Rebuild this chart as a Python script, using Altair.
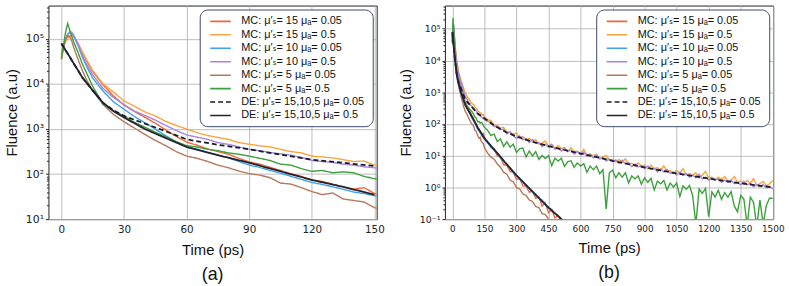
import altair as alt
import pandas as pd

# ---------------- time grids ----------------
T_EARLY = [0, 1, 2, 3, 4, 5, 6, 8, 10, 12, 15, 20, 25, 30, 35, 40, 45, 50, 55, 60,
           65, 70, 75, 80, 85, 90, 95, 100, 105, 110, 115, 120, 125, 130, 135, 140, 145, 150]
T_LATE = list(range(165, 1501, 15))
T_MC = T_EARLY + T_LATE

LABELS = [
    "MC: μ′ₛ= 15 μₐ= 0.05",
    "MC: μ′ₛ= 15 μₐ= 0.5",
    "MC: μ′ₛ= 10 μₐ= 0.05",
    "MC: μ′ₛ= 10 μₐ= 0.5",
    "MC: μ′ₛ= 5 μₐ= 0.05",
    "MC: μ′ₛ= 5 μₐ= 0.5",
    "DE:  μ′ₛ= 15,10,5 μₐ= 0.05",
    "DE:  μ′ₛ= 15,10,5 μₐ= 0.5",
]
COLORS = ["#ef6637", "#f8a43c", "#3fa2e6", "#a386e0", "#b5785a", "#3e9f3e", "#1c1c28", "#222230"]
DASHES = [[1, 0], [1, 0], [1, 0], [1, 0], [1, 0], [1, 0], [5, 3], [1, 0]]

# ---------------- Monte Carlo series (fluence, a.u.) ----------------
MC_15_005 = [5.0e4, 7.1e4, 8.9e4, 1.05e5, 1.15e5, 1.2e5, 1.12e5, 7.9e4, 5.0e4, 3.3e4, 1.9e4, 9.5e3,
             5.4e3, 3.4e3, 2.45e3, 1.82e3, 1.35e3, 955, 690, 513, 437, 363, 316, 275, 224, 186, 166,
             141, 120, 102, 89, 74, 69, 60, 52, 46, 50, 37,
             28, 17.8, 16.6, 10, 8.9, 5.2, 5.0, 3.2, 3.0, 1.78, 1.9, 1.12, 1.1, 0.71, 0.76, 0.45,
             0.5, 0.26, 0.32, 0.16, 0.2, 0.11, 0.13, 0.079, 0.089, 0.05]
MC_15_05 = [5.0e4, 7.1e4, 8.9e4, 1.05e5, 1.12e5, 1.17e5, 1.12e5, 7.9e4, 5.2e4, 3.5e4, 2.0e4, 1.0e4,
            6.6e3, 4.2e3, 3.2e3, 2.4e3, 1.95e3, 1.48e3, 1.2e3, 1.0e3, 830, 720, 650, 590, 500, 460,
            425, 400, 355, 316, 295, 250, 240, 229, 209, 190, 195, 158,
            135, 129, 91, 91, 74, 78, 55, 55, 47, 52,
            37, 40, 31, 35, 29, 32, 23, 25, 29, 20,
            22, 17, 21, 17, 18, 13.5, 18, 13.5, 13.8, 11.2,
            15.8, 10.5, 11.5, 10, 11.2, 7.9, 9.1, 10.2, 7.2, 7.6,
            6.3, 7.6, 6.3, 7.9, 5.5, 5.8, 4.7, 5.9, 4.8, 4.9,
            3.8, 5.1, 3.9, 4.2, 3.4, 4.8, 3.3, 3.4, 2.75, 3.5,
            2.8, 3.9, 2.45, 2.75, 2.4, 2.9, 2.0, 2.45, 3.2, 2.0,
            2.1, 1.7, 2.1, 1.8, 2.2, 1.55, 1.7, 2.2, 1.45, 1.6,
            1.26, 1.66, 1.35, 1.9, 1.15, 1.32, 1.55, 1.12, 1.29, 1.66]
MC_10_005 = [4.0e4, 6.3e4, 9.5e4, 1.26e5, 1.38e5, 1.32e5, 1.12e5, 7.1e4, 4.0e4, 2.5e4, 1.35e4, 6.9e3,
             4.0e3, 2.75e3, 1.9e3, 1.38e3, 1.0e3, 710, 525, 400, 355, 302, 263, 229, 191, 158, 141,
             120, 105, 89, 76, 65, 59, 52, 46, 40, 37, 33,
             25, 19, 14.8, 11.5, 8.7, 6.8, 5.0, 4.0, 2.9, 2.4, 1.8, 1.5, 1.1, 0.95, 0.7, 0.62,
             0.45, 0.4, 0.3, 0.23, 0.2, 0.15, 0.13, 0.1, 0.08, 0.056]
MC_10_05 = [4.5e4, 7.1e4, 1.0e5, 1.26e5, 1.45e5, 1.41e5, 1.2e5, 7.6e4, 4.3e4, 2.8e4, 1.6e4, 7.9e3,
            5.0e3, 3.5e3, 2.5e3, 2.0e3, 1.58e3, 1.2e3, 930, 740, 660, 590, 500, 457, 400, 355, 331,
            302, 282, 263, 234, 200, 190, 182, 166, 158, 145, 138,
            120, 115, 83, 83, 66, 68, 49, 56, 43, 35,
            42, 32, 34, 26, 32, 25, 26, 19.5, 23, 18.6,
            23, 16.2, 17.8, 14.1, 17, 13.8, 14.8, 11.2, 13.5, 11,
            12.9, 9.5, 10.5, 8.5, 10.5, 8.1, 8.9, 6.8, 7.8, 6.5,
            7.4, 5.8, 7.2, 5.5, 5.9, 4.5, 5.5, 4.4, 4.9, 3.9,
            4.7, 3.7, 4.0, 3.1, 3.8, 3.1, 3.7, 2.75, 3.0, 2.45,
            3.0, 2.45, 2.7, 2.1, 2.45, 2.0, 2.6, 1.86, 2.1, 1.7,
            2.0, 1.7, 1.86, 1.45, 1.7, 1.45, 1.7, 1.32, 1.45, 1.2,
            1.55, 1.2, 1.35, 1.05, 1.23, 1.05, 1.23, 0.98, 1.07, 0.89]
MC_5_005 = [3.5e4, 6.3e4, 1.0e5, 1.2e5, 1.12e5, 8.9e4, 6.3e4, 3.5e4, 2.0e4, 1.26e4, 7.1e3, 3.5e3,
            2.1e3, 1.45e3, 1.05e3, 760, 560, 427, 316, 251, 224, 191, 158, 138, 117, 102, 95,
            83, 63, 60, 50, 41, 35, 38, 28, 26, 24, 18,
            12, 9.0, 7.8, 5.5, 4.3, 3.0, 2.6, 1.7, 1.5, 1.0, 0.9, 0.62, 0.56, 0.4, 0.36, 0.25,
            0.23, 0.15, 0.14, 0.1, 0.09, 0.06, 0.05]
MC_5_05 = [3.6e4, 7.1e4, 1.41e5, 2.2e5, 1.58e5, 1.12e5, 8.3e4, 5.0e4, 2.8e4, 1.78e4, 8.9e3, 3.5e3,
           2.5e3, 1.95e3, 1.41e3, 1.1e3, 850, 676, 525, 427, 398, 355, 331, 295, 275, 251, 224,
           200, 166, 158, 132, 115, 120, 107, 112, 107, 89, 79,
           63, 43, 48, 28, 34, 19.5, 27.5, 18.6, 23, 12.6,
           16.6, 17.4, 9.1, 14.1, 9.8, 13.5, 7.6, 10.2, 8.1, 10,
           4.8, 8.3, 6.8, 8.3, 4.6, 6.5, 6.9, 4.3, 5.9, 4.7,
           5.6, 3.0, 4.7, 3.6, 4.7, 2.7, 3.6, 0.21, 2.9, 3.5,
           2.0, 2.9, 2.1, 2.9, 1.38, 2.3, 1.86, 2.3, 1.26, 2.0,
           1.45, 1.95, 0.83, 1.58, 1.29, 1.66, 0.83, 1.38, 1.02, 1.38,
           0.52, 1.12, 0.87, 1.15, 0.55, 0.069, 0.89, 0.65, 0.93, 0.12,
           0.72, 0.5, 0.81, 0.42, 0.69, 0.49, 0.74, 0.26, 0.17, 0.56,
           0.42, 0.063, 0.49, 0.34, 0.058, 0.4, 0.069, 0.27, 0.46, 0.45]

# ---------------- diffusion-equation series ----------------
DE_T_005 = [0, 2, 4, 6, 8, 10, 15, 20, 25, 30, 40, 50, 60, 75, 90, 105, 120, 135, 150, 200, 250,
            300, 375, 450, 525, 600, 750, 900, 1050, 1200, 1350, 1500]
DE_V_005 = [7.9e4, 5.6e4, 4.0e4, 2.8e4, 2.0e4, 1.4e4, 7.2e3, 3.8e3, 2.6e3, 1.95e3, 1.32e3, 890, 590,
            447, 355, 269, 209, 178, 151, 85, 56, 40, 27.5, 20, 15.1, 11.7, 6.9, 4.3, 2.75, 1.9,
            1.35, 1.0]
DE_T_05 = [0, 2, 4, 6, 8, 10, 15, 20, 25, 30, 40, 50, 60, 75, 90, 105, 120, 135, 150, 200, 250,
           300, 350, 400, 450, 500, 540]
DE_V_05 = [7.9e4, 5.6e4, 4.0e4, 2.8e4, 2.0e4, 1.4e4, 7.2e3, 3.8e3, 2.5e3, 1.8e3, 1.0e3, 630, 400,
           263, 178, 115, 74, 52, 35, 14.5, 5.8, 2.4, 1.1, 0.5, 0.23, 0.117, 0.063]

MC_SERIES = [MC_15_005, MC_15_05, MC_10_005, MC_10_05, MC_5_005, MC_5_05]
rows = []
for lab, vals in zip(LABELS[:6], MC_SERIES):
    for t, v in zip(T_MC, vals):
        rows.append({"t": t, "v": v, "series": lab})
mc_df = pd.DataFrame(rows)

rows = []
for lab, ts, vs in [(LABELS[6], DE_T_005, DE_V_005), (LABELS[7], DE_T_05, DE_V_05)]:
    for t, v in zip(ts, vs):
        rows.append({"t": t, "v": v, "series": lab})
de_df = pd.DataFrame(rows)

SUP = "['⁻¹','⁰','¹','²','³','⁴','⁵']"
LABEL_EXPR = "'10' + " + SUP + "[round(log(datum.value)/LN10)+1]"


def minor_values(lo, hi):
    out = []
    for e in range(lo, hi + 1):
        for m in range(2, 10):
            out.append(m * 10.0 ** e)
    return out


def panel(tmax, xdom, xticks, ydom, yticks, minor, lab_size, sub):
    mc = mc_df[mc_df.t <= tmax]
    de = de_df[de_df.t <= tmax]
    color = alt.Color("series:N", title=None,
                      scale=alt.Scale(domain=LABELS, range=COLORS),
                      legend=alt.Legend(orient="top-right"))
    dash = alt.StrokeDash("series:N", title=None,
                          scale=alt.Scale(domain=LABELS, range=DASHES),
                          legend=alt.Legend(orient="top-right"))
    x = alt.X("t:Q", scale=alt.Scale(domain=xdom, nice=False, zero=False),
              axis=alt.Axis(values=xticks, title="Time (ps)", labelFontSize=lab_size,
                            format="d", labelFlush=False, ticks=False, labelPadding=6,
                            titlePadding=7))
    ymain = alt.Y("v:Q", scale=alt.Scale(type="log", domain=ydom, nice=False),
                  axis=alt.Axis(values=yticks, labelExpr=LABEL_EXPR, title="Fluence (a.u)",
                                labelFontSize=lab_size + 0.5, orient="left", labelFlush=False,
                                tickSize=3))
    yminor = alt.Y("v:Q", scale=alt.Scale(type="log", domain=ydom, nice=False),
                   axis=alt.Axis(values=minor, labels=False, grid=False, domain=False,
                                 tickSize=2, title=None, orient="left"))
    l1 = alt.Chart(mc).mark_line(clip=True, strokeWidth=1.4).encode(
        x=x, y=ymain, color=color, strokeDash=dash, detail="series:N")
    l2 = alt.Chart(de).mark_line(clip=True, strokeWidth=1.8).encode(
        x=x, y=yminor, color=color, strokeDash=dash, detail="series:N")
    return alt.layer(l1, l2).resolve_axis(y="independent").properties(
        width=332, height=216,
        title=alt.TitleParams(sub, orient="bottom", anchor="middle", fontSize=18,
                              font="Liberation Sans", fontWeight="normal", offset=9,
                              color="#111111"))


left = panel(165, [-6.2, 151.1], [0, 30, 60, 90, 120, 150], [10, 5.5e5],
             [10, 100, 1000, 10000, 100000], minor_values(1, 5), 10.5, "(a)")
right = panel(1500, [-35, 1502], list(range(0, 1501, 150)), [0.1, 5.4e5],
              [0.1, 1, 10, 100, 1000, 10000, 100000], minor_values(-1, 5), 9, "(b)")

chart = alt.hconcat(left, right, spacing=12).resolve_scale(
    color="independent", strokeDash="independent").resolve_legend(
    color="independent", strokeDash="independent").properties(
    padding={"left": 4, "top": 3, "right": 4, "bottom": 0}, background="white"
).configure_view(stroke="#222222", strokeWidth=1).configure_axis(
    grid=True, gridColor="#b5b5b5", gridWidth=0.9, domain=False,
    tickColor="#222222", tickSize=4, labelFont="DejaVu Sans", labelColor="#222222",
    titleFont="Liberation Sans", titleFontSize=15, titleFontWeight="normal",
    titleColor="#111111", labelPadding=2
).configure_axisY(titlePadding=6).configure_legend(
    strokeColor="#3b4a6b", cornerRadius=8, padding=5, fillColor="white",
    labelFont="Liberation Sans, DejaVu Sans", labelFontSize=11, labelColor="#111111",
    symbolType="M-1.7,0H1.7", symbolSize=150, symbolStrokeWidth=1.6, rowPadding=1.6,
    symbolOffset=9, offset=4, labelOffset=14
)

chart.save("out.html", embed_options={"renderer": "svg", "actions": False})
